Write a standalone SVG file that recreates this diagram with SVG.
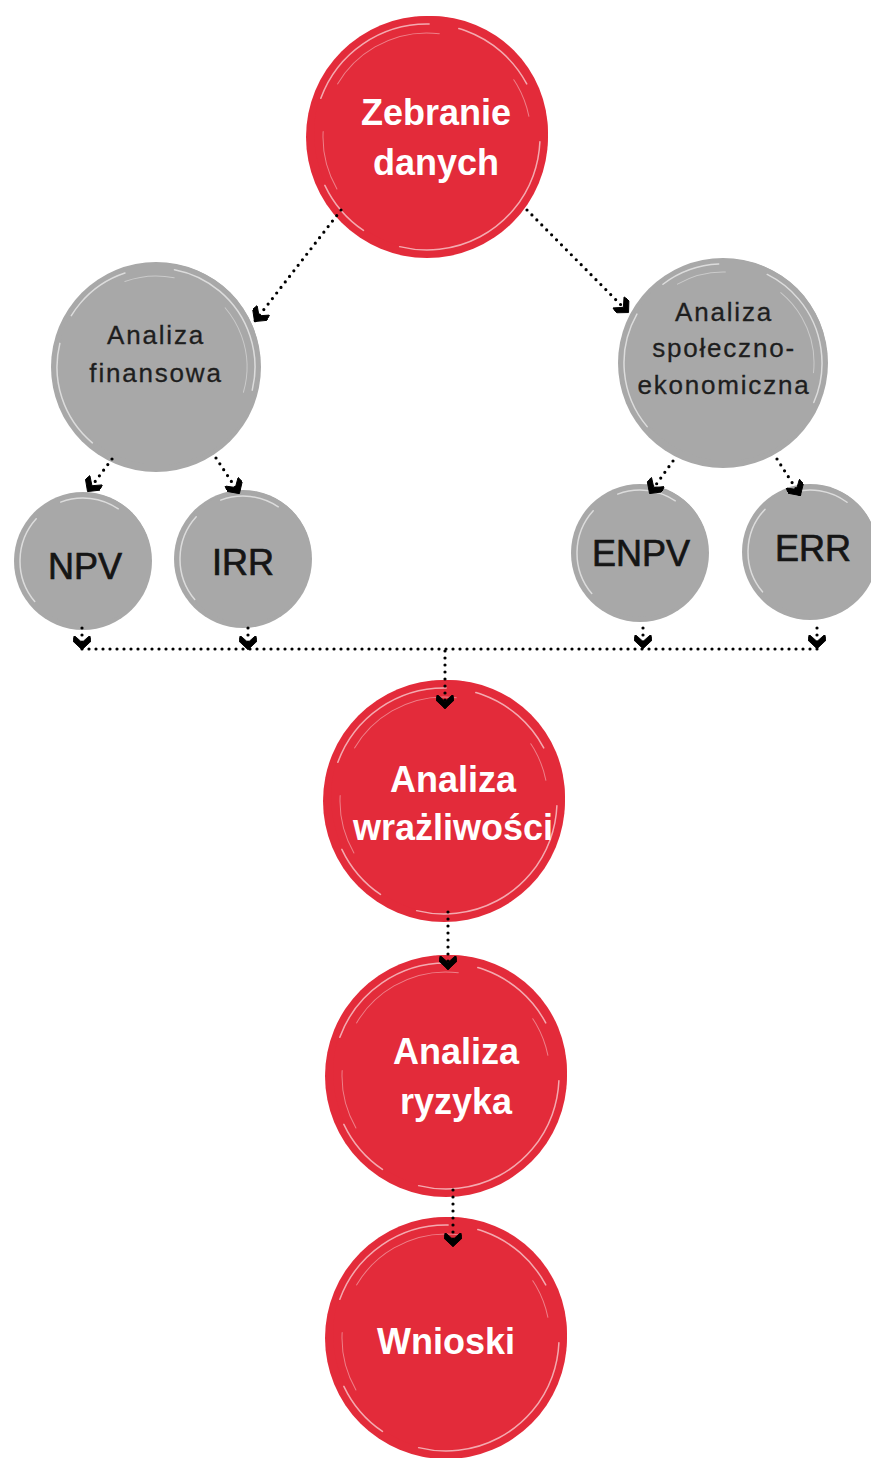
<svg xmlns="http://www.w3.org/2000/svg" width="871" height="1458" viewBox="0 0 871 1458">
<style>
.red{fill:#e32b3a}
.gray{fill:#a8a8a8}
.ring{fill:none;stroke:#ffffff;stroke-width:1.5;stroke-opacity:0.6;stroke-linecap:round}
.ring2{fill:none;stroke:#ffffff;stroke-width:1;stroke-opacity:0.4;stroke-linecap:round}
.rt{font-family:"Liberation Sans",Arial,sans-serif;font-weight:bold;font-size:36px;fill:#ffffff;text-anchor:middle}
.gt{font-family:"Liberation Sans",Arial,sans-serif;font-size:26px;letter-spacing:1.8px;fill:#1e1e1e;stroke:#1e1e1e;stroke-width:0.3;text-anchor:middle}
.kt{font-family:"Liberation Sans",Arial,sans-serif;font-size:36px;fill:#151515;stroke:#151515;stroke-width:0.7;text-anchor:middle}
.dot{fill:none;stroke:#000000;stroke-width:3.2;stroke-linecap:round;stroke-dasharray:0 7}
.ah{fill:#000000;stroke:#000000;stroke-width:0.6;stroke-linejoin:round}
</style>
<defs>
<marker id="arr" viewBox="0 0 10 12" refX="9" refY="6" markerWidth="15" markerHeight="18" markerUnits="userSpaceOnUse" orient="auto">
<path class="ah" d="M0,0.8 L3.8,0 L9.5,6 L3.8,12 L0,11.2 L4.6,6 Z"/>
</marker>
</defs>

<g id="zebranie">
<circle class="red" cx="427" cy="137" r="121"/>
<circle class="red" cx="431" cy="133" r="117"/>
<circle class="ring" cx="427" cy="137" r="113" stroke-dasharray="140 30 90 60 200 40 60 400" transform="rotate(200 427 137)"/>
<circle class="ring2" cx="427" cy="137" r="104" stroke-dasharray="60 50 120 90 40 300" transform="rotate(150 427 137)"/>
<text class="rt" x="436" y="125">Zebranie</text>
<text class="rt" x="436" y="175">danych</text>
</g>

<g id="analiza-finansowa">
<circle class="gray" cx="156" cy="367" r="105"/>
<circle class="gray" cx="159" cy="364" r="101"/>
<circle class="ring" cx="156" cy="367" r="99" stroke-dasharray="110 30 70 50 160 500" transform="rotate(130 156 367)"/>
<circle class="ring2" cx="156" cy="367" r="91" stroke-dasharray="50 60 90 400" transform="rotate(250 156 367)"/>
<text class="gt" x="156" y="344">Analiza</text>
<text class="gt" x="156" y="382">finansowa</text>
</g>

<g id="analiza-spoleczno-ekonomiczna">
<circle class="gray" cx="723" cy="363" r="105"/>
<circle class="gray" cx="726" cy="360" r="101"/>
<circle class="ring" cx="723" cy="363" r="99" stroke-dasharray="120 40 60 50 150 500" transform="rotate(140 723 363)"/>
<circle class="ring2" cx="723" cy="363" r="91" stroke-dasharray="50 60 90 400" transform="rotate(240 723 363)"/>
<text class="gt" x="724" y="321">Analiza</text>
<text class="gt" x="724" y="357">społeczno-</text>
<text class="gt" x="724" y="394">ekonomiczna</text>
</g>

<g id="npv">
<circle class="gray" cx="83" cy="561" r="69"/>
<circle class="gray" cx="85" cy="559" r="66"/>
<circle class="ring" cx="83" cy="561" r="63" stroke-dasharray="90 30 60 400" transform="rotate(140 83 561)"/>
<text class="kt" x="85" y="579">NPV</text>
</g>

<g id="irr">
<circle class="gray" cx="243" cy="559" r="69"/>
<circle class="gray" cx="245" cy="557" r="66"/>
<circle class="ring" cx="243" cy="559" r="63" stroke-dasharray="90 30 60 400" transform="rotate(140 243 559)"/>
<text class="kt" x="243" y="575">IRR</text>
</g>

<g id="enpv">
<circle class="gray" cx="640" cy="553" r="69"/>
<circle class="gray" cx="642" cy="551" r="66"/>
<circle class="ring" cx="640" cy="553" r="63" stroke-dasharray="90 30 60 400" transform="rotate(140 640 553)"/>
<text class="kt" x="641" y="566">ENPV</text>
</g>

<g id="err">
<circle class="gray" cx="810" cy="552" r="68"/>
<circle class="gray" cx="812" cy="550" r="65"/>
<circle class="ring" cx="810" cy="552" r="62" stroke-dasharray="90 30 60 400" transform="rotate(140 810 552)"/>
<text class="kt" x="813" y="561">ERR</text>
</g>

<g id="analiza-wrazliwosci">
<circle class="red" cx="444" cy="801" r="121"/>
<circle class="red" cx="448" cy="797" r="117"/>
<circle class="ring" cx="444" cy="801" r="113" stroke-dasharray="140 30 90 60 200 40 60 400" transform="rotate(200 444 801)"/>
<circle class="ring2" cx="444" cy="801" r="104" stroke-dasharray="60 50 120 90 40 300" transform="rotate(150 444 801)"/>
<text class="rt" x="453" y="792">Analiza</text>
<text class="rt" x="453" y="840">wrażliwości</text>
</g>

<g id="analiza-ryzyka">
<circle class="red" cx="446" cy="1076" r="121"/>
<circle class="red" cx="450" cy="1072" r="117"/>
<circle class="ring" cx="446" cy="1076" r="113" stroke-dasharray="140 30 90 60 200 40 60 400" transform="rotate(200 446 1076)"/>
<circle class="ring2" cx="446" cy="1076" r="104" stroke-dasharray="60 50 120 90 40 300" transform="rotate(150 446 1076)"/>
<text class="rt" x="456" y="1064">Analiza</text>
<text class="rt" x="456" y="1114">ryzyka</text>
</g>

<g id="wnioski">
<circle class="red" cx="446" cy="1338" r="121"/>
<circle class="red" cx="450" cy="1334" r="117"/>
<circle class="ring" cx="446" cy="1338" r="113" stroke-dasharray="140 30 90 60 200 40 60 400" transform="rotate(200 446 1338)"/>
<circle class="ring2" cx="446" cy="1338" r="104" stroke-dasharray="60 50 120 90 40 300" transform="rotate(150 446 1338)"/>
<text class="rt" x="446" y="1354">Wnioski</text>
</g>

<g id="connectors">
<path class="dot" d="M341,210 L255,321" marker-end="url(#arr)"/>
<path class="dot" d="M527,210 L628,312" marker-end="url(#arr)"/>
<path class="dot" d="M112,459 L88,491" marker-end="url(#arr)"/>
<path class="dot" d="M216,458 L239,493" marker-end="url(#arr)"/>
<path class="dot" d="M673,461 L650,493" marker-end="url(#arr)"/>
<path class="dot" d="M777,459 L800,495" marker-end="url(#arr)"/>
<path class="dot" d="M82,628 L82,649" marker-end="url(#arr)"/>
<path class="dot" d="M248,628 L248,649" marker-end="url(#arr)"/>
<path class="dot" d="M643,628 L643,648" marker-end="url(#arr)"/>
<path class="dot" d="M817,628 L817,648" marker-end="url(#arr)"/>
<path class="dot" d="M82,649 L818,649"/>
<path class="dot" d="M445,651 L445,708" marker-end="url(#arr)"/>
<path class="dot" d="M448,912 L448,969" marker-end="url(#arr)"/>
<path class="dot" d="M453,1190 L453,1246" marker-end="url(#arr)"/>
</g>
</svg>
